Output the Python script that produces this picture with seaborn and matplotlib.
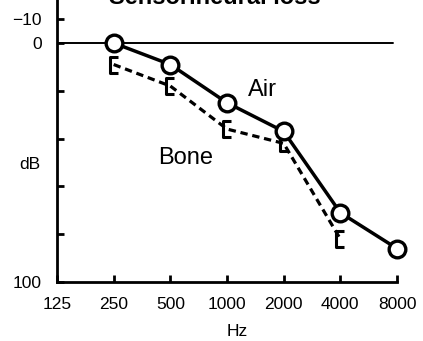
import matplotlib
matplotlib.use("Agg")
import matplotlib.pyplot as plt
from matplotlib.path import Path
import seaborn as sns
import pandas as pd

# ---- data ----
freq_ticks = [125, 250, 500, 1000, 2000, 4000, 8000]
freq_labels = ["125", "250", "500", "1000", "2000", "4000", "8000"]
air_freq = [250, 500, 1000, 2000, 4000, 8000]
air_db = [0, 9, 25, 37, 71, 86]
bone_freq = [250, 500, 1000, 2000, 4000]
bone_db = [9, 18, 36, 42, 82]
y_ticks = [-10, 0, 20, 40, 60, 80, 100]
y_labels = ["\u221210", "0", "", "", "", "", "100"]

sns.set_theme(style="white")
plt.rcParams["font.family"] = ["Liberation Sans", "DejaVu Sans"]
plt.rcParams["text.color"] = "black"

fig = plt.figure(figsize=(4.23, 3.41), dpi=100)
ax = fig.add_axes([57 / 423, 1 - 282 / 341, 340 / 423, 282 / 341])

air = pd.DataFrame({"Hz": air_freq, "dB": air_db})
bone = pd.DataFrame({"Hz": bone_freq, "dB": bone_db})

bracket = Path([(0.23, -0.5), (-0.23, -0.5), (-0.23, 0.5), (0.23, 0.5)],
               [Path.MOVETO, Path.LINETO, Path.LINETO, Path.LINETO])

ax.set_xscale("log", base=2)
ax.axhline(0, color="black", lw=1.4, xmax=0.988, zorder=1)

sns.lineplot(data=bone, x="Hz", y="dB", ax=ax, color="black", lw=2.3,
             linestyle=(0, (2.3, 1.5)), marker=bracket, markersize=12,
             markerfacecolor="none", markeredgecolor="black",
             markeredgewidth=2.2, clip_on=False, zorder=3)
sns.lineplot(data=air, x="Hz", y="dB", ax=ax, color="black", lw=2.5,
             marker="o", markersize=12, markerfacecolor="white",
             markeredgecolor="black", markeredgewidth=2.4,
             clip_on=False, zorder=4)

ax.set_xlim(125, 8000)
ax.set_ylim(100, -18)
ax.set_xticks(freq_ticks)
ax.set_xticklabels(freq_labels)
ax.minorticks_off()
ax.set_yticks(y_ticks)
ax.set_yticklabels(y_labels)
ax.set_xlabel("")
ax.set_ylabel("")

for s in ["top", "right"]:
    ax.spines[s].set_visible(False)
for s in ["left", "bottom"]:
    ax.spines[s].set_linewidth(2.0)
    ax.spines[s].set_color("black")

ax.tick_params(axis="both", direction="in", length=5, width=2.0,
               colors="black", labelcolor="black", labelsize=12.5)
ax.tick_params(axis="x", pad=11, bottom=True)
ax.tick_params(axis="y", pad=11, left=True)

ax.text(1535, 19.5, "Air", fontsize=17, ha="center", va="center", color="black")
ax.text(600, 48, "Bone", fontsize=17, ha="center", va="center", color="black")
ax.text(-0.079, 51, "dB", fontsize=12.5, ha="center", va="center",
        color="black", transform=ax.get_yaxis_transform())

fig.text(237 / 423, 1 - 331 / 341, "Hz", fontsize=12.5, ha="center",
         va="center", color="black")
fig.text(215 / 423, 1 - 4 / 341, "Sensorineural loss", fontsize=17,
         fontweight="bold", ha="center", va="baseline", color="black")

fig.savefig("out.png", dpi=100)
